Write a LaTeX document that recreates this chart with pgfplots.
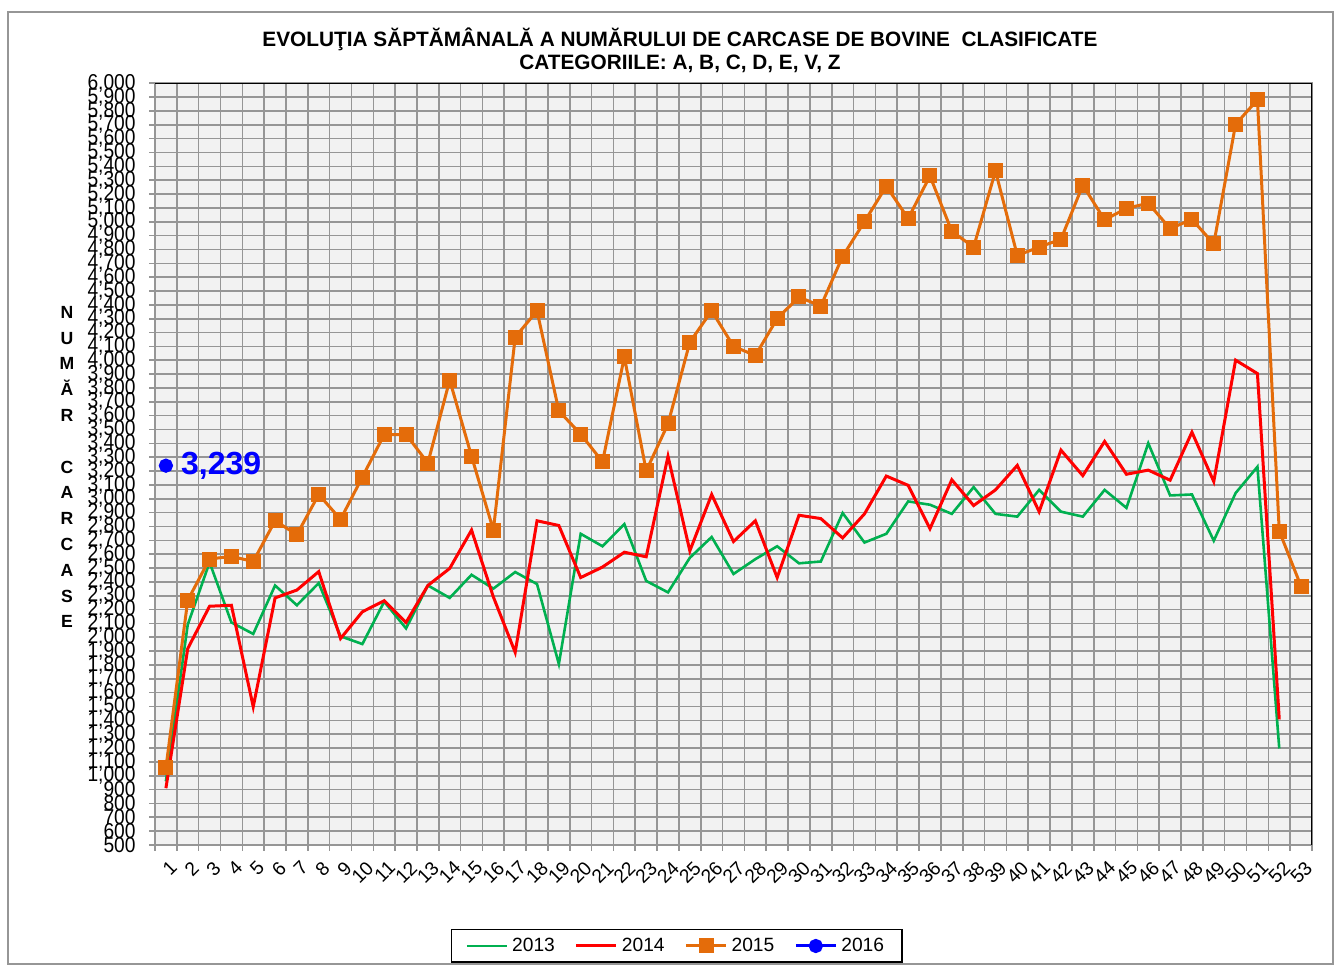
\documentclass[border=0pt]{standalone}
\usepackage{pgfplots}
\pgfplotsset{compat=1.18}
\usepackage{fontspec}
\setmainfont{Liberation Sans}
\definecolor{c13}{RGB}{0,176,80}
\definecolor{c14}{RGB}{255,0,0}
\definecolor{c15}{RGB}{228,108,10}
\definecolor{c16}{RGB}{0,0,255}
\definecolor{gridc}{RGB}{150,150,150}
\definecolor{bgc}{RGB}{242,242,242}
\begin{document}
\begin{tikzpicture}
\path[use as bounding box] (0,0) rectangle (669pt,483.5pt);
\draw[gridc, line width=0.6pt] (4pt,1.5pt) rectangle (666.5pt,477.5pt);
\node[align=center, font=\bfseries\fontsize{10.4pt}{11.5pt}\selectfont] at (340pt,458.25pt)
  {EVOLUŢIA SĂPTĂMÂNALĂ A NUMĂRULUI DE CARCASE DE BOVINE\ \ CLASIFICATE\\CATEGORIILE: A, B, C, D, E, V, Z};
\node[align=center, font=\bfseries\fontsize{8.8pt}{12.9pt}\selectfont] at (33.5pt,250pt)
  {N\\U\\M\\Ă\\R\\\mbox{}\\C\\A\\R\\C\\A\\S\\E};
\begin{axis}[
  at={(77.5pt,61pt)}, anchor=south west,
  scale only axis, width=578.5pt, height=380.85pt,
  xmin=0.5, xmax=53.5, ymin=500, ymax=6000,
  axis background/.style={fill=bgc},
  xtick={1,2,...,53},
  minor xtick={0.5,1.5,...,53.5},
  ytick={500,600,...,6000},
  xminorgrids=true, ymajorgrids=true, xmajorgrids=false,
  grid style={gridc, line width=0.8pt},
  minor grid style={gridc, line width=0.8pt},
  axis line style={gridc, line width=0.8pt},
  tick align=outside,
  major tick length=3pt, minor tick length=3pt,
  tick style={gridc, line width=0.8pt},
  major x tick style={draw=none},
  xtick pos=bottom, ytick pos=left,
  /pgf/number format/assume math mode=true,
  /pgf/number format/1000 sep={,},
  tick label style={font=\fontsize{9.6pt}{10pt}\selectfont},
  xticklabel style={rotate=45, anchor=north east, inner sep=1pt, yshift=-3pt, xshift=-1pt},
  yticklabel style={inner sep=2pt, xshift=-4.5pt},
  yticklabel={\scalebox{1}[1.12]{\pgfmathprintnumber{\tick}}},
  legend style={at={(0.451,-0.1326)}, anchor=center, legend columns=4, draw=black, line width=0.7pt,
     font=\fontsize{9.6pt}{10pt}\selectfont, inner xsep=7pt, inner ysep=2pt,
     /tikz/every even column/.append style={column sep=8pt}},
  legend image code/.code={\draw[mark repeat=2,mark phase=2,#1] plot coordinates {(0pt,0pt) (10pt,0pt) (20pt,0pt)};},
]
\addplot[c13, line width=1.3pt] coordinates {
(1,960)(2,2091)(3,2541)(4,2107)(5,2024)(6,2374)(7,2231)(8,2391)(9,2007)(10,1951)
(11,2257)(12,2064)(13,2374)(14,2284)(15,2451)(16,2351)(17,2471)(18,2384)(19,1807)(20,2747)
(21,2657)(22,2817)(23,2407)(24,2324)(25,2574)(26,2724)(27,2457)(28,2564)(29,2657)(30,2534)
(31,2547)(32,2897)(33,2684)(34,2747)(35,2981)(36,2957)(37,2891)(38,3084)(39,2891)(40,2871)
(41,3064)(42,2907)(43,2871)(44,3064)(45,2934)(46,3401)(47,3024)(48,3031)(49,2697)(50,3041)
(51,3231)(52,1197)};
\addlegendentry{2013}
\addplot[c14, line width=1.5pt] coordinates {
(1,910)(2,1918)(3,2224)(4,2231)(5,1498)(6,2284)(7,2341)(8,2474)(9,1991)(10,2184)
(11,2264)(12,2107)(13,2374)(14,2497)(15,2774)(16,2291)(17,1891)(18,2841)(19,2807)(20,2431)
(21,2507)(22,2614)(23,2581)(24,3307)(25,2624)(26,3031)(27,2691)(28,2841)(29,2431)(30,2881)
(31,2857)(32,2717)(33,2891)(34,3164)(35,3097)(36,2784)(37,3137)(38,2951)(39,3064)(40,3241)
(41,2907)(42,3351)(43,3167)(44,3414)(45,3177)(46,3207)(47,3134)(48,3481)(49,3124)(50,4001)
(51,3904)(52,1407)};
\addlegendentry{2014}
\addplot[c15, line width=1.5pt, mark=square*, mark size=3pt, mark options={solid}] coordinates {
(1,1057)(2,2267)(3,2565)(4,2584)(5,2547)(6,2841)(7,2741)(8,3031)(9,2851)(10,3157)
(11,3464)(12,3464)(13,3258)(14,3857)(15,3307)(16,2774)(17,4167)(18,4357)(19,3634)(20,3467)
(21,3267)(22,4024)(23,3201)(24,3541)(25,4131)(26,4357)(27,4101)(28,4034)(29,4301)(30,4457)
(31,4391)(32,4751)(33,5001)(34,5257)(35,5024)(36,5331)(37,4931)(38,4817)(39,5367)(40,4757)
(41,4817)(42,4874)(43,5264)(44,5014)(45,5097)(46,5134)(47,4951)(48,5017)(49,4841)(50,5704)
(51,5881)(52,2767)(53,2367)};
\addlegendentry{2015}
\addplot[c16, line width=1.5pt, mark=*, mark size=2.8pt, nodes near coords,
  nodes near coords style={font=\bfseries\fontsize{16pt}{17pt}\selectfont, text=c16, anchor=west, xshift=3.5pt}]
  coordinates {(1,3239)};
\addlegendentry{2016}
\draw[black, line width=1pt] (rel axis cs:0,1) -- (rel axis cs:1,1) -- (rel axis cs:1,0);
\end{axis}
\end{tikzpicture}
\end{document}
